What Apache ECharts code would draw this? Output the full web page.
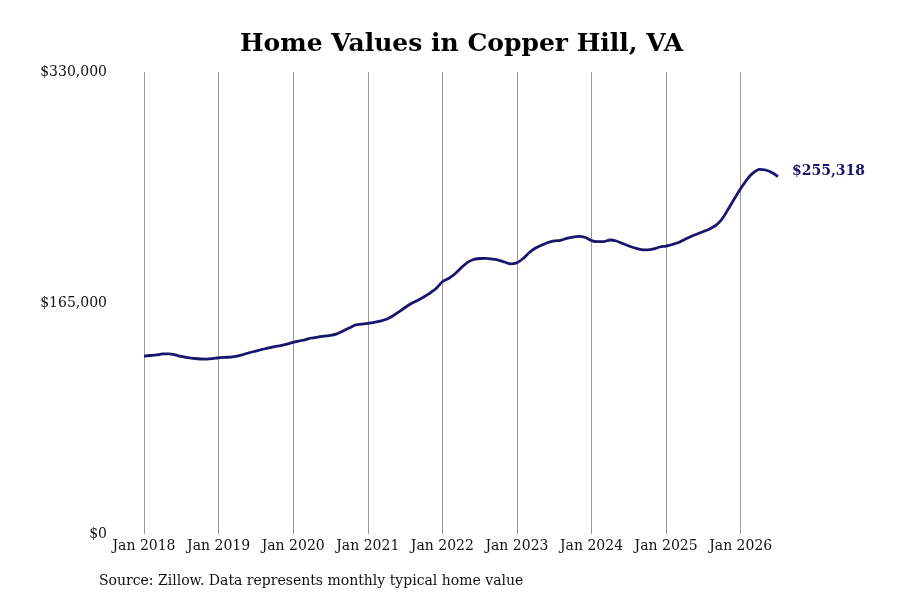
<!DOCTYPE html>
<html>
<head>
<meta charset="utf-8">
<script src="https://cdn.jsdelivr.net/npm/echarts@6/dist/echarts.min.js"></script>
<style>
    html, body { margin: 0; padding: 0; background: #fff; }
    #chart { width: 900px; height: 600px; }
</style>
</head>
<body>
<div id="chart"></div>
<script>
const years = [2018, 2019, 2020, 2021, 2022, 2023, 2024, 2025, 2026]
const monthNames = ["Jan", "Feb", "Mar", "Apr", "May", "Jun", "Jul", "Aug", "Sep", "Oct", "Nov", "Dec"]

// monthly typical home value, Jan 2018 .. Jul 2026
const values2018 = [127100, 127500, 127900, 128600, 128600, 127900, 126800, 125900, 125400, 125000, 124900, 125200]
const values2019 = [125900, 126200, 126400, 127100, 128200, 129600, 130700, 131800, 132900, 133900, 134600, 135700]
const values2020 = [136900, 137900, 138900, 140000, 140700, 141400, 141800, 142900, 145000, 147100, 149300, 149900]
const values2021 = [150500, 151200, 152100, 153400, 155700, 158600, 161800, 164600, 166800, 169300, 172100, 175400]
const values2022 = [180200, 182500, 185700, 190000, 193900, 196100, 196800, 196900, 196400, 195700, 194300, 192900]
const values2023 = [193700, 196800, 201100, 204300, 206400, 208200, 209300, 209800, 211100, 212100, 212600, 211800]
const values2024 = [209600, 208800, 208900, 210000, 209300, 207500, 205700, 204300, 203200, 202900, 203600, 205000]
const values2025 = [205700, 206800, 208200, 210400, 212500, 214300, 216100, 217900, 220400, 225000, 232100, 239600]
const values2026 = [246800, 253200, 257900, 260500, 260000, 258200, 255318]

const yTicks = [0, 165000, 330000]

const values = [].concat(values2018, values2019, values2020, values2021,
    values2022, values2023, values2024, values2025, values2026)

const categories = []
for (const y of years) {
    for (const m of monthNames) {
        if (categories.length < values.length) categories.push(`${m} ${y}`)
    }
}

const fmt = (v) => "$" + v.toLocaleString("en-US")
const serif = "DejaVu Serif"
const isJan = (i) => i % 12 === 0

const chart = echarts.init(document.getElementById("chart"))

const option = {
    backgroundColor: "#ffffff",
    animation: false,
    title: {
        text: "Home Values in Copper Hill, VA",
        left: 235,
        top: 27,
        textStyle: {
            fontFamily: serif,
            fontWeight: "bold",
            fontSize: 25,
            color: "#000",
        },
    },
    graphic: [{
        type: "text",
        left: 99,
        top: 574,
        style: {
            text: "Source: Zillow. Data represents monthly typical home value",
            font: `14px "${serif}"`,
            fill: "#111",
        },
    }],
    grid: {
        left: 144,
        right: 122,
        top: 72,
        bottom: 66,
    },
    xAxis: {
        type: "category",
        data: categories,
        boundaryGap: false,
        axisLine: { show: false },
        axisTick: { show: false },
        axisLabel: {
            interval: (i) => isJan(i),
            margin: 5,
            fontFamily: serif,
            fontSize: 14,
            color: "#111",
        },
        splitLine: {
            show: true,
            interval: (i) => isJan(i),
            lineStyle: { color: "#999", width: 1 },
        },
    },
    yAxis: {
        type: "value",
        min: yTicks[0],
        max: yTicks[yTicks.length - 1],
        interval: yTicks[1] - yTicks[0],
        axisLine: { show: false },
        axisTick: { show: false },
        splitLine: { show: false },
        axisLabel: {
            margin: 37,
            fontFamily: serif,
            fontSize: 14,
            color: "#111",
            formatter: fmt,
        },
    },
    series: [{
        type: "line",
        data: values,
        smooth: 0.3,
        showSymbol: false,
        lineStyle: { color: "#18166c", width: 2.8 },
        endLabel: {
            show: true,
            formatter: (p) => fmt(p.value),
            offset: [6, -5],
            fontFamily: serif,
            fontWeight: "bold",
            fontSize: 14,
            color: "#18166c",
        },
    }],
}

chart.setOption(option)
</script>
</body>
</html>
